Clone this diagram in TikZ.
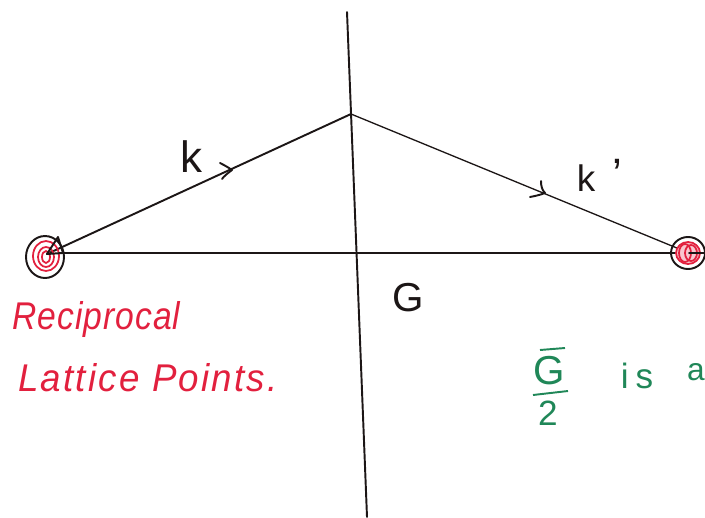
\documentclass[tikz,border=0pt]{standalone}
\usepackage{fontspec}
\setmainfont{Liberation Sans}
\definecolor{inkred}{RGB}{226,32,62}
\definecolor{inkgreen}{RGB}{32,135,88}
\definecolor{ink}{RGB}{28,22,22}
\tikzset{
  hand/.style={line width=1.1pt,color=ink,line cap=round,line join=round},
  thinhand/.style={line width=.75pt,color=ink,line cap=round},
  redring/.style={line width=1pt,color=inkred},
  blackring/.style={line width=1.1pt,color=ink},
  redtext/.style={color=inkred,anchor=base west,inner sep=0pt,font=\itshape\fontsize{22}{22}\selectfont},
  blacktext/.style={color=ink,inner sep=0pt,font=\fontsize{25}{25}\selectfont},
  greentext/.style={color=inkgreen,inner sep=0pt,font=\fontsize{23}{23}\selectfont},
}
\begin{document}
\begin{tikzpicture}[x=0.02cm,y=-0.02cm]
\useasboundingbox (0,0) rectangle (705,517);
\clip (0,0) rectangle (705,517);
% reference points
\coordinate (L) at (47,254);
\coordinate (R) at (689,253);
\coordinate (A) at (351,114);
\coordinate (T) at (347,12);
\coordinate (B) at (367,517);
\coordinate (LE) at (62,253);
% axis and triangle
\draw[hand] (T) -- (B);
\draw[hand] (L) -- (A);
\draw[thinhand] (A) -- (R);
\draw[hand] (LE) -- (R);
% arrow ticks along the lines
\draw[hand] (220,163) .. controls (226,166) and (229,168) .. (232,170) .. controls (228,173) and (224,176) .. (222,179);
\draw[hand] (541,181) .. controls (541,186) and (542,190) .. (545,193) .. controls (540,195) and (535,196) .. (530,197);
% left lattice point
\draw[blackring] (45,257) ellipse (19 and 21);
\draw[redring] (46,256) ellipse (13 and 15);
\draw[redring] (46,257) ellipse (8 and 10);
\draw[redring] (46,257) ellipse (4 and 6);
\draw[hand] (L) -- (58,237) -- (63,253) -- (L) -- (LE);
% right lattice point
\draw[blackring] (688,253) ellipse (17 and 16);
\draw[redring,fill=inkred!25] (688,253) ellipse (12 and 11);
\draw[redring] (685,253) ellipse (6 and 9);
\draw[redring] (691,253) ellipse (6 and 8);
\draw[hand] (R) -- (705,253);
% labels
\node[blacktext] (kl) at (191,157) {k};
\node[blacktext,font=\fontsize{21}{21}\selectfont] (kp) at (586,178) {k};
\node[blacktext] (kpp) at (617,174) {'};
\node[color=ink,inner sep=0pt,font=\fontsize{23}{23}\selectfont] (gl) at (408,298) {G};
\node[redtext,xscale=.87] (r1) at (12,329) {\addfontfeature{LetterSpace=3}Reciprocal};
\node[redtext,xscale=.95] (r2) at (18,391) {\addfontfeature{LetterSpace=6}Lattice Points.};
\node[greentext] (g) at (549,371) {G};
\coordinate (gb1) at (540,350);
\coordinate (gb2) at (565,348);
\draw[inkgreen,line width=1.1pt] (gb1) -- (gb2);
\coordinate (f1) at (533,395);
\coordinate (f2) at (568,391);
\draw[inkgreen,line width=1.1pt] (f1) -- (f2);
\node[greentext,font=\fontsize{20}{20}\selectfont] (two) at (548,413) {2};
\node[greentext,font=\fontsize{20}{20}\selectfont] (is) at (637,376) {\addfontfeature{LetterSpace=20}is};
\node[greentext,font=\fontsize{18}{18}\selectfont] (aa) at (696,372) {a};
\end{tikzpicture}
\end{document}
